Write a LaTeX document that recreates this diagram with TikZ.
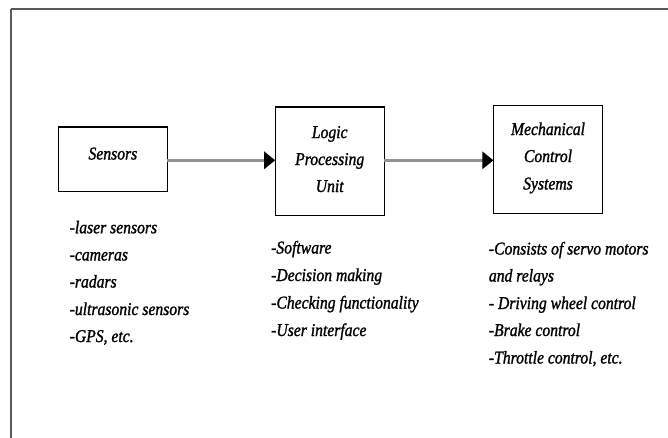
\documentclass[tikz,border=0pt]{standalone}
\usepackage{fontspec}
\setmainfont[FakeStretch=0.87,FakeBold=1.3]{Liberation Serif}
\usetikzlibrary{arrows.meta}
\begin{document}
\begin{tikzpicture}[x=1pt,y=-1pt,
  blockbox/.style={draw=black,line width=1.3pt,fill=white},
  flowarrow/.style={draw=gray!85!white,line width=3.2pt,-{Triangle[length=11pt,width=17pt,fill=black,color=black]}},
  lbl/.style={font=\fontsize{18}{27}\selectfont\itshape,inner sep=0pt},
  listtext/.style={lbl,anchor=base west}]
\useasboundingbox (0,0) rectangle (668,437);
\draw[draw=black!65,line width=2pt] (10.7,9) -- (680,9);
\draw[draw=black!65,line width=2pt] (10.7,9) -- (10.7,450);
% boxes
\path[blockbox] (58.4,127) rectangle (167.4,191.7);
\path[blockbox] (275.2,107) rectangle (384.3,215.3);
\path[blockbox] (493.4,105.3) rectangle (602.5,213.3);
\coordinate (s1) at (167.4,160.3);
\coordinate (s2) at (275.2,160.3);
\coordinate (l1) at (384.3,160.3);
\coordinate (l2) at (493.4,160.3);
\draw[flowarrow] (s1) -- (s2);
\draw[flowarrow] (l1) -- (l2);
% box labels
\node[lbl,anchor=base] (sens) at (112.9,159.5) {Sensors};
\node[lbl,anchor=base] (lpu1) at (329.7,138) {Logic};
\node[lbl,anchor=base] (lpu2) at (329.7,165) {Processing};
\node[lbl,anchor=base] (lpu3) at (329.7,192) {Unit};
\node[lbl,anchor=base] (mcs1) at (548,135) {Mechanical};
\node[lbl,anchor=base] (mcs2) at (548,162) {Control};
\node[lbl,anchor=base] (mcs3) at (548,189.5) {Systems};
% lists
\node[listtext] (a1) at (69.5,233.3) {-laser sensors};
\node[listtext] (a2) at (69.5,260.5) {-cameras};
\node[listtext] (a3) at (69.5,287.5) {-radars};
\node[listtext] (a4) at (69.5,315) {-ultrasonic sensors};
\node[listtext] (a5) at (69.5,342) {-GPS, etc.};
\node[listtext] (b1) at (271,253.5) {-Software};
\node[listtext] (b2) at (271,281) {-Decision making};
\node[listtext] (b3) at (271,308.5) {-Checking functionality};
\node[listtext] (b4) at (271,336) {-User interface};
\node[listtext] (c1) at (488.7,254.5) {-Consists of servo motors};
\node[listtext] (c2) at (488.7,281.5) {and relays};
\node[listtext] (c3) at (488.7,309) {- Driving wheel control};
\node[listtext] (c4) at (488.7,336) {-Brake control};
\node[listtext] (c5) at (488.7,363.5) {-Throttle control, etc.};
\end{tikzpicture}
\end{document}
